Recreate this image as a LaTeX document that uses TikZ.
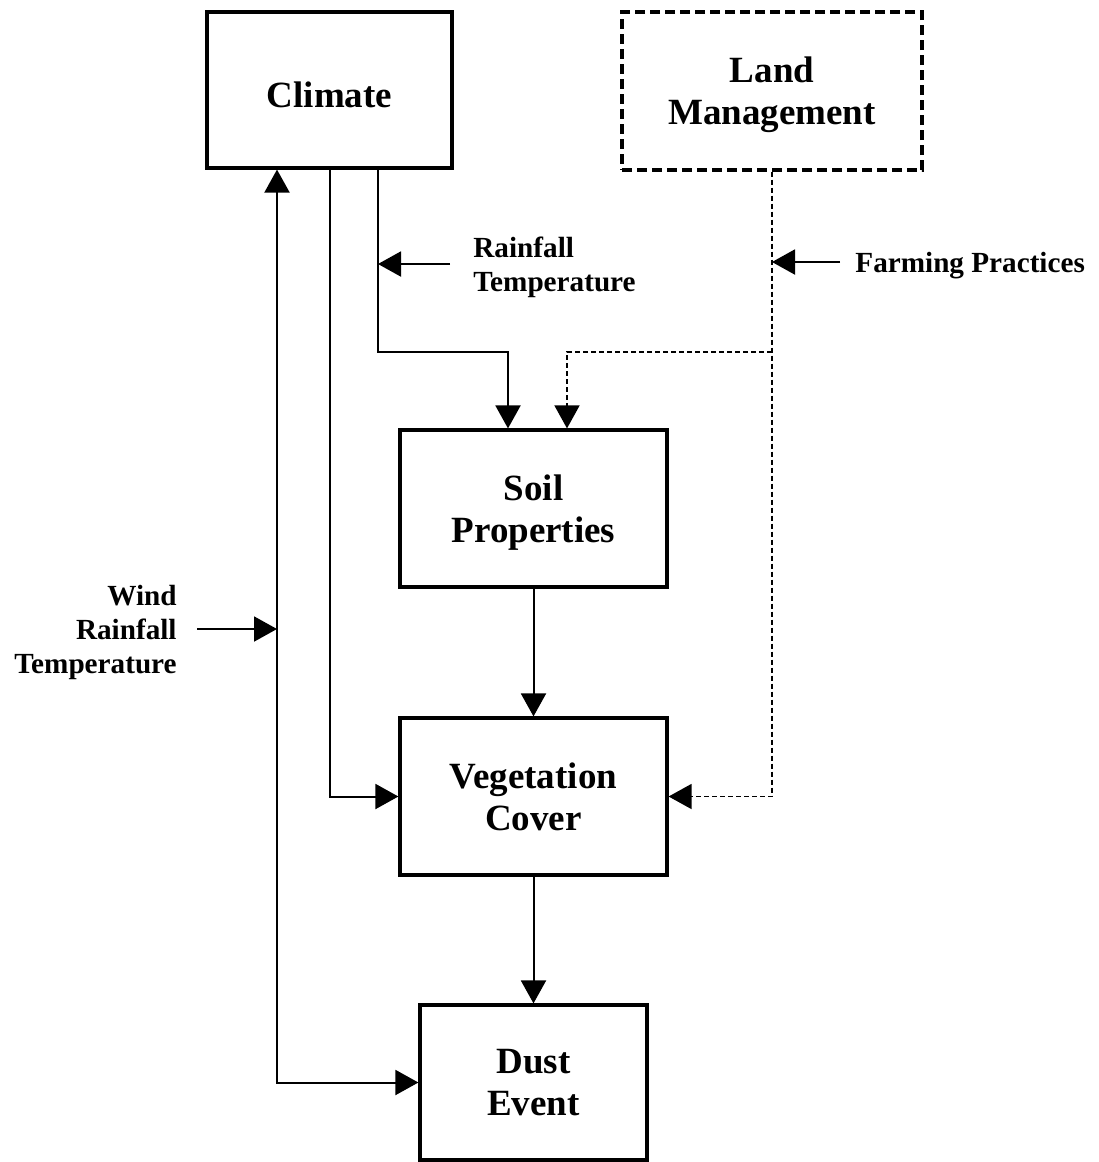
\documentclass[tikz,border=0pt]{standalone}
\usepackage{fontspec}
\setmainfont{Liberation Serif}
\usetikzlibrary{arrows.meta}

\begin{document}
\begin{tikzpicture}[x=0.5pt,y=-0.5pt,
    >={Triangle[length=11.5pt,width=12.5pt]},
    flow/.style={draw,line width=1pt,->},
    manage/.style={draw,line width=0.8pt,dash pattern=on 2.5pt off 1.5pt,->}]

  \useasboundingbox (0,0) rectangle (1098,1162);

  % boxes
  \begin{scope}[every node/.style={rectangle,draw,line width=1.6pt,inner sep=0pt,align=center,
      font=\bfseries\fontsize{18.5}{21}\selectfont}]
    \node[minimum width=122.5pt,minimum height=78pt,
          execute at begin node={\rule{0pt}{17.6pt}}] (climate) at (329.5,90) {Climate};
    \node[minimum width=150pt,minimum height=79pt,text depth=0pt,dash pattern=on 5pt off 2.5pt]
                                                     (land)    at (772,91)     {Land\\Management};
    \node[minimum width=133.5pt,minimum height=78.5pt,text depth=0pt] (soil) at (533.5,508.5) {Soil\\Properties};
    \node[minimum width=133.5pt,minimum height=78.5pt] (veg)   at (533.5,796.5) {Vegetation\\Cover};
    \node[minimum width=113.5pt,minimum height=77.5pt] (dust)  at (533.5,1082.5) {Dust\\Event};
  \end{scope}

  % labels
  \begin{scope}[every node/.style={inner sep=0pt,text depth=0pt,font=\bfseries\fontsize{14.6}{17}\selectfont}]
    \node[anchor=west,align=left]  (rain) at (473,264) {Rainfall\\Temperature};
    \node[anchor=west]             (farm) at (855,262) {Farming Practices};
    \node[anchor=east,align=right] (wind) at (177,629) {Wind\\Rainfall\\Temperature};
  \end{scope}

  \coordinate (c1) at (378,352);
  \coordinate (c2) at (330,352);
  \coordinate (w)  at (277,352);
  \coordinate (s1) at (508,352);
  \coordinate (s2) at (567,352);

  % climate links
  \draw[flow] (climate.south -| c1) -- (c1) -| (soil.north -| s1);
  \draw[flow] (climate.south -| c2) |- (veg.west);
  \draw[flow,<->] (climate.south -| w) |- (dust.west);

  % land management links
  \draw[manage] (land.south) |- (veg.east);
  \draw[manage] (land.south |- c1) -| (soil.north -| s2);

  % chain
  \draw[flow] (soil.south) -- (veg.north);
  \draw[flow] (veg.south) -- (dust.north);

  % label arrows
  \draw[flow,shorten <=11.5pt] (rain.west) -- (rain.west -| c1);
  \draw[flow,shorten <=7.5pt] (farm.west) -- (farm.west -| land.south);
  \draw[flow,shorten <=10pt] (wind.east) -- (wind.east -| w);

\end{tikzpicture}
\end{document}
